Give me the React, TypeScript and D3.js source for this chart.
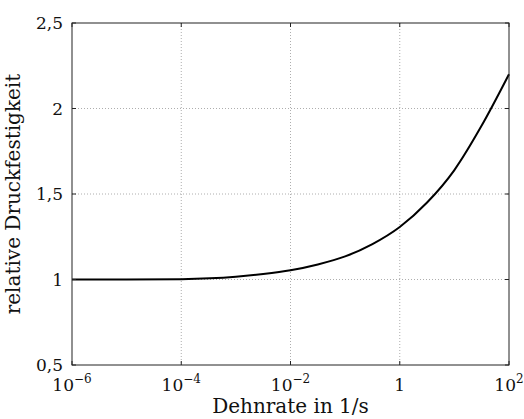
import React from 'react';
import * as d3 from 'd3';

// Dehnrate (log10 of 1/s) and relative Druckfestigkeit
const logRates = [-6, -5, -4, -3, -2.5, -2, -1.5, -1, -0.5, 0, 0.5, 1, 1.5, 2];
const strength = [1.0, 1.0, 1.002, 1.016, 1.032, 1.054, 1.088, 1.135, 1.207, 1.307, 1.45, 1.64, 1.9, 2.2];

const xTickExps = [-6, -4, -2, 0, 2];
const yTicks = [0.5, 1, 1.5, 2, 2.5];

const W = 524;
const H = 419;
const margin = { top: 23, right: 15, bottom: 54, left: 72 };
const FONT = '"DejaVu Serif", serif';

const App = () => {
  const width = W - margin.left - margin.right;
  const height = H - margin.top - margin.bottom;

  const x = d3.scaleLog().domain([1e-6, 1e2]).range([0, width]);
  const y = d3.scaleLinear().domain([0.5, 2.5]).range([height, 0]);

  const points = logRates.map((e, i) => [Math.pow(10, e), strength[i]] as [number, number]);
  const line = d3.line<[number, number]>()
    .x(d => x(d[0]))
    .y(d => y(d[1]))
    .curve(d3.curveMonotoneX);

  const fmtY = (v: number) => String(v).replace('.', ',');
  const tickLen = 4;

  return (
    <svg width={W} height={H} style={{ position: 'absolute', left: 0, top: 0 }}>
      <rect width={W} height={H} fill="#fff" />
      <g transform={`translate(${margin.left},${margin.top})`} fontFamily={FONT}>
        {/* grid */}
        {xTickExps.slice(1, -1).map(e => (
          <line key={'gx' + e} x1={x(Math.pow(10, e))} x2={x(Math.pow(10, e))} y1={0} y2={height}
            stroke="#999" strokeWidth={0.8} strokeDasharray="1,2" />
        ))}
        {yTicks.slice(1, -1).map(v => (
          <line key={'gy' + v} x1={0} x2={width} y1={y(v)} y2={y(v)}
            stroke="#999" strokeWidth={0.8} strokeDasharray="1,2" />
        ))}

        {/* curve */}
        <path d={line(points) || ''} fill="none" stroke="#000" strokeWidth={2} />

        {/* frame */}
        <rect x={0} y={0} width={width} height={height} fill="none" stroke="#222" strokeWidth={1} />

        {/* ticks */}
        {xTickExps.map(e => {
          const px = x(Math.pow(10, e));
          return (
            <g key={'tx' + e}>
              <line x1={px} x2={px} y1={height} y2={height - tickLen} stroke="#222" />
              <line x1={px} x2={px} y1={0} y2={tickLen} stroke="#222" />
              <text x={px} y={height + 26} textAnchor="middle" fontSize={17} fill="#111">
                {e === 0 ? '1' : (
                  <>
                    10<tspan fontSize={12} dy={-8}>{'\u2212'.repeat(e < 0 ? 1 : 0) + Math.abs(e)}</tspan>
                  </>
                )}
              </text>
            </g>
          );
        })}
        {yTicks.map(v => {
          const py = y(v);
          return (
            <g key={'ty' + v}>
              <line x1={0} x2={tickLen} y1={py} y2={py} stroke="#222" />
              <line x1={width} x2={width - tickLen} y1={py} y2={py} stroke="#222" />
              <text x={-9} y={py} dy="0.36em" textAnchor="end" fontSize={17} fill="#111">{fmtY(v)}</text>
            </g>
          );
        })}

        {/* axis labels */}
        <text x={width / 2} y={height + 48} textAnchor="middle" fontSize={20} fill="#111">Dehnrate in 1/s</text>
        <text transform={`translate(${-52},${height / 2}) rotate(-90)`} textAnchor="middle" fontSize={20} fill="#111">
          relative Druckfestigkeit
        </text>
      </g>
    </svg>
  );
};

export default App;
